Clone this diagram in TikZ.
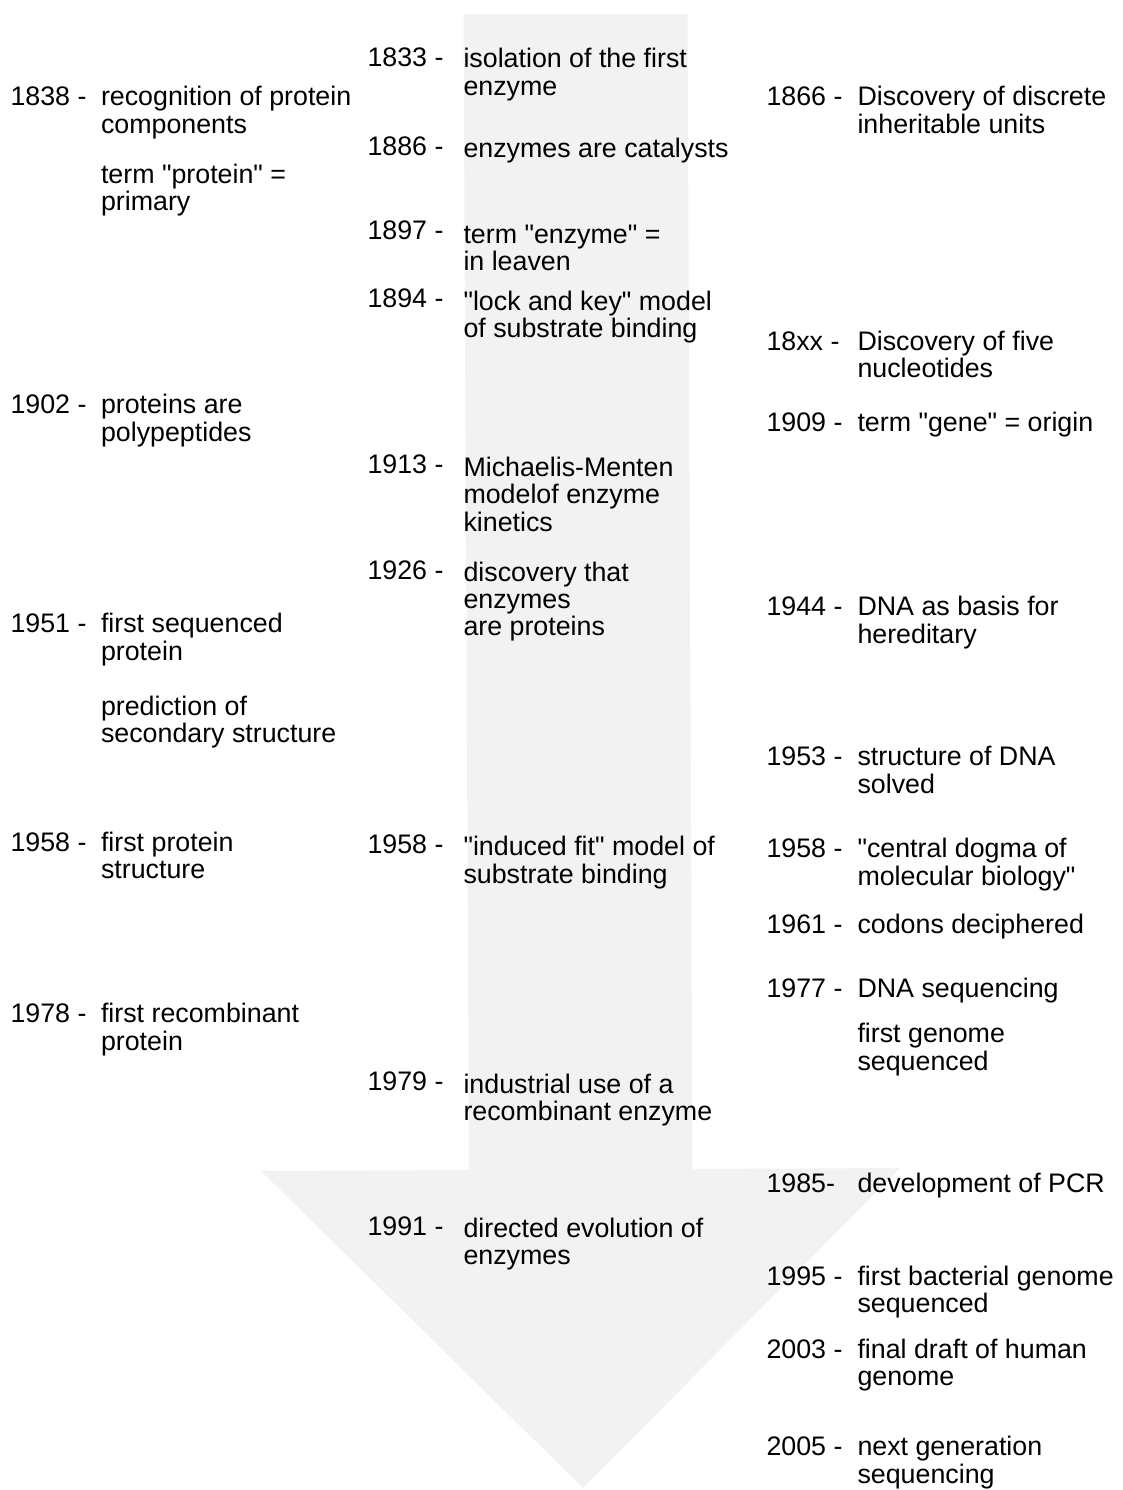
\documentclass[tikz,border=0pt]{standalone}
\usepackage{fontspec}
\setmainfont{Liberation Sans}[Ligatures=TeXOff]
\newcommand\itemfont{\fontsize{26.8}{27.3}\selectfont}
\newcommand\ml[1]{\begin{tabular}[t]{@{}l@{}}#1\end{tabular}}
\definecolor{arrowgray}{HTML}{F2F2F2}
\begin{document}
\begin{tikzpicture}[x=1pt,y=-1pt,
  yr/.style={anchor=base west, inner sep=0pt, outer sep=0pt, font=\itemfont},
  tx/.style={anchor=base west, inner sep=0pt, outer sep=0pt, font=\itemfont}]
\useasboundingbox (0,0) rectangle (1122,1490);
% big timeline arrow
\fill[arrowgray] (463.5,14) -- (687.5,14) -- (692.5,1169) -- (900,1168)
  -- (583,1488) -- (261,1171) -- (469,1170) -- cycle;

% ---------- left column: proteins ----------
\node[yr] (yL1838) at (10.5,106) {1838 -};
\node[tx] (tL1838) at (101,106) {\ml{recognition of protein\\components}};
\node[tx] (tLprot) at (101,183) {\ml{term "protein" =\\primary}};
\node[yr] (yL1902) at (10.5,413.5) {1902 -};
\node[tx] (tL1902) at (101,413.5) {\ml{proteins are\\polypeptides}};
\node[yr] (yL1951) at (10.5,632.5) {1951 -};
\node[tx] (tL1951) at (101,632.5) {\ml{first sequenced\\protein}};
\node[tx] (tLpred) at (101,715) {\ml{prediction of\\secondary structure}};
\node[yr] (yL1958) at (10.5,851.5) {1958 -};
\node[tx] (tL1958) at (101,851.5) {\ml{first protein\\structure}};
\node[yr] (yL1978) at (10.5,1022.5) {1978 -};
\node[tx] (tL1978) at (101,1022.5) {\ml{first recombinant\\protein}};

% ---------- middle column: enzymes ----------
\node[yr] (yM1833) at (367.5,67) {1833 -};
\node[tx] (tM1833) at (463.5,68) {\ml{isolation of the first\\enzyme}};
\node[yr] (yM1886) at (367.5,156) {1886 -};
\node[tx] (tM1886) at (463.5,158) {enzymes are catalysts};
\node[yr] (yM1897) at (367.5,239) {1897 -};
\node[tx] (tM1897) at (463.5,243) {\ml{term "enzyme" =\\in leaven}};
\node[yr] (yM1894) at (367.5,307) {1894 -};
\node[tx] (tM1894) at (463.5,310) {\ml{"lock and key" model\\of substrate binding}};
\node[yr] (yM1913) at (367.5,473) {1913 -};
\node[tx] (tM1913) at (463.5,476) {\ml{Michaelis-Menten\\modelof enzyme\\kinetics}};
\node[yr] (yM1926) at (367.5,579) {1926 -};
\node[tx] (tM1926) at (463.5,581) {\ml{discovery that\\enzymes\\are proteins}};
\node[yr] (yM1958) at (367.5,853) {1958 -};
\node[tx] (tM1958) at (463.5,855.5) {\ml{"induced fit" model of\\substrate binding}};
\node[yr] (yM1979) at (367.5,1090) {1979 -};
\node[tx] (tM1979) at (463.5,1093) {\ml{industrial use of a\\recombinant enzyme}};
\node[yr] (yM1991) at (367.5,1235.5) {1991 -};
\node[tx] (tM1991) at (463.5,1237.5) {\ml{directed evolution of\\enzymes}};

% ---------- right column: genes / DNA ----------
\node[yr] (yR1866) at (766.5,106) {1866 -};
\node[tx] (tR1866) at (857.5,106) {\ml{Discovery of discrete\\inheritable units}};
\node[yr] (yR18xx) at (766.5,350.3) {18xx -};
\node[tx] (tR18xx) at (857.5,350.3) {\ml{Discovery of five\\nucleotides}};
\node[yr] (yR1909) at (766.5,431) {1909 -};
\node[tx] (tR1909) at (857.5,431) {term "gene" = origin};
\node[yr] (yR1944) at (766.5,615.5) {1944 -};
\node[tx] (tR1944) at (857.5,615.5) {\ml{DNA as basis for\\hereditary}};
\node[yr] (yR1953) at (766.5,765.5) {1953 -};
\node[tx] (tR1953) at (857.5,765.5) {\ml{structure of DNA\\solved}};
\node[yr] (yR1958) at (766.5,857.5) {1958 -};
\node[tx] (tR1958) at (857.5,857.5) {\ml{"central dogma of\\molecular biology"}};
\node[yr] (yR1961) at (766.5,933.5) {1961 -};
\node[tx] (tR1961) at (857.5,933.5) {codons deciphered};
\node[yr] (yR1977) at (766.5,997.5) {1977 -};
\node[tx] (tR1977) at (857.5,997.5) {DNA sequencing};
\node[tx] (tRgen) at (857.5,1042.5) {\ml{first genome\\sequenced}};
\node[yr] (yR1985) at (766.5,1192.5) {1985-};
\node[tx] (tR1985) at (857.5,1192.5) {development of PCR};
\node[yr] (yR1995) at (766.5,1285) {1995 -};
\node[tx] (tR1995) at (857.5,1285) {\ml{first bacterial genome\\sequenced}};
\node[yr] (yR2003) at (766.5,1358) {2003 -};
\node[tx] (tR2003) at (857.5,1358) {\ml{final draft of human\\genome}};
\node[yr] (yR2005) at (766.5,1455.5) {2005 -};
\node[tx] (tR2005) at (857.5,1455.5) {\ml{next generation\\sequencing}};
\end{tikzpicture}
\end{document}
